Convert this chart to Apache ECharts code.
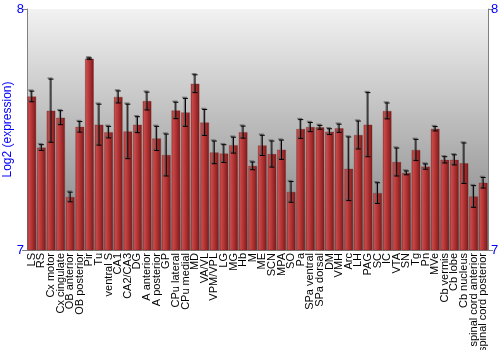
<!DOCTYPE html>
<html>
<head>
<meta charset="utf-8">
<script src="https://cdn.jsdelivr.net/npm/echarts@6/dist/echarts.min.js"></script>
<style>
  html, body { margin: 0; padding: 0; background: #fff; }
  #main { width: 500px; height: 350px; }
</style>
</head>
<body>
<div id="main"></div>
<script>
// brain regions
const regions = ['LS', 'RS', 'Cx motor', 'Cx cingulate', 'OB anterior', 'OB posterior', 'Pir', 'Tu',
  'ventral S', 'CA1', 'CA2/CA3', 'DG', 'A anterior', 'A posterior', 'GP', 'CPu lateral', 'CPu medial',
  'MD', 'VA/VL', 'VPM/VPL', 'LG', 'MG', 'Hb', 'M', 'ME', 'SCN', 'MPA', 'SO', 'Pa', 'SPa ventral',
  'SPa dorsal', 'DM', 'VMH', 'Arc', 'LH', 'PAG', 'SC', 'IC', 'VTA', 'SN', 'Tg', 'Pn', 'MVe',
  'Cb vermis', 'Cb lobe', 'Cb nucleus', 'spinal cord anterior', 'spinal cord posterior'];
// mean log2 expression
const expr = [7.637, 7.425, 7.578, 7.549, 7.220, 7.511, 7.794, 7.520,
  7.489, 7.635, 7.492, 7.520, 7.618, 7.463, 7.394, 7.579, 7.571,
  7.690, 7.529, 7.405, 7.400, 7.435, 7.489, 7.349, 7.434, 7.398, 7.416, 7.241, 7.502, 7.510,
  7.509, 7.491, 7.505, 7.337, 7.477, 7.520, 7.236, 7.577, 7.365, 7.320, 7.415, 7.346, 7.503,
  7.374, 7.374, 7.360, 7.222, 7.279];
// error (+/-)
const err = [0.022, 0.012, 0.131, 0.029, 0.020, 0.022, 0.003, 0.085,
  0.024, 0.025, 0.113, 0.033, 0.037, 0.050, 0.087, 0.034, 0.058,
  0.037, 0.054, 0.047, 0.037, 0.033, 0.025, 0.016, 0.042, 0.054, 0.040, 0.043, 0.039, 0.019,
  0.008, 0.012, 0.017, 0.132, 0.058, 0.133, 0.043, 0.033, 0.058, 0.008, 0.044, 0.011, 0.009,
  0.013, 0.021, 0.084, 0.045, 0.022];
const yTicks = [7, 8];

const errData = expr.map((v, i) => [i, v - err[i], v + err[i]]);

const chart = echarts.init(document.getElementById('main'));

// error bars: gray shadow + black line with caps
function renderErr(params, api) {
  const x = api.value(0);
  const lo = api.coord([x, api.value(1)]);
  const hi = api.coord([x, api.value(2)]);
  const cap = 2.5;
  const mk = (dx, dy, color, w) => [
    { type: 'line', shape: { x1: lo[0] + dx, y1: lo[1] + dy, x2: hi[0] + dx, y2: hi[1] + dy }, style: { stroke: color, lineWidth: w } },
    { type: 'line', shape: { x1: hi[0] - cap + dx, y1: hi[1] + dy, x2: hi[0] + cap + dx, y2: hi[1] + dy }, style: { stroke: color, lineWidth: w } },
    { type: 'line', shape: { x1: lo[0] - cap + dx, y1: lo[1] + dy, x2: lo[0] + cap + dx, y2: lo[1] + dy }, style: { stroke: color, lineWidth: w } }
  ];
  return {
    type: 'group',
    children: mk(-1, -1, 'rgba(90,90,90,0.7)', 1.5).concat(mk(0, 0, '#000', 1))
  };
}

const yAxisCommon = {
  type: 'value',
  min: yTicks[0],
  max: yTicks[1],
  interval: 1,
  splitLine: { show: false },
  axisLine: { show: true, lineStyle: { color: '#808080' } },
  axisTick: { show: true, length: 5, lineStyle: { color: '#808080' } },
  axisLabel: { color: '#0000ff', fontSize: 13, fontFamily: 'Liberation Sans', margin: 3 }
};

chart.setOption({
  animation: false,
  grid: {
    left: 27, right: 12, top: 9, bottom: 100,
    outerBoundsMode: 'none',
    containLabel: false,
    show: true,
    borderWidth: 0,
    backgroundColor: new echarts.graphic.LinearGradient(0, 0, 0, 1, [
      { offset: 0, color: '#f2f2f2' },
      { offset: 1, color: '#7f7f7f' }
    ])
  },
  xAxis: {
    type: 'category',
    data: regions,
    axisLine: { show: true, lineStyle: { color: '#808080' } },
    axisTick: { show: false },
    axisLabel: {
      interval: 0, rotate: 90, color: '#000', fontSize: 11,
      fontFamily: 'Liberation Sans', margin: 3
    }
  },
  yAxis: [
    Object.assign({}, yAxisCommon, {
      position: 'left',
      name: 'Log2 (expression)',
      nameLocation: 'middle',
      nameGap: 13,
      nameMoveOverlap: false,
      nameTextStyle: { color: '#0000ff', fontSize: 12, fontFamily: 'Liberation Sans' }
    }),
    Object.assign({}, yAxisCommon, { position: 'right' })
  ],
  series: [
    {
      type: 'bar',
      data: expr,
      barCategoryGap: '10%',
      itemStyle: {
        color: new echarts.graphic.LinearGradient(0, 0, 1, 0, [
          { offset: 0, color: '#9a3030' },
          { offset: 0.15, color: '#c84a4a' },
          { offset: 0.5, color: '#b23434' },
          { offset: 1, color: '#7a1a1a' }
        ]),
        borderColor: 'rgba(120,30,30,0.6)',
        borderWidth: 0.5
      }
    },
    {
      type: 'custom',
      data: errData,
      renderItem: renderErr,
      encode: { x: 0, y: [1, 2] },
      z: 5
    }
  ]
});
</script>
</body>
</html>
